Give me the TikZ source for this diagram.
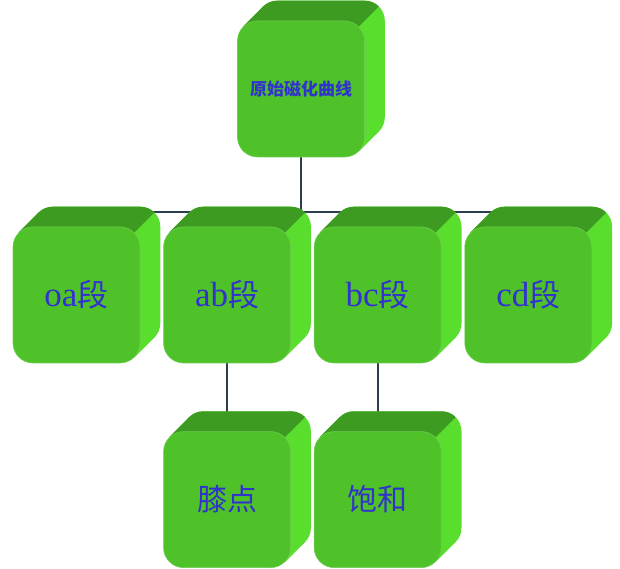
\documentclass[tikz,border=0pt]{standalone}
\usepackage{fontspec}
\setmainfont{Liberation Serif}
\newfontfamily\cjk{Noto Sans CJK SC}
\usetikzlibrary{positioning,calc}

\definecolor{facegreen}{RGB}{78,194,40}
\definecolor{topgreen}{RGB}{62,155,34}
\definecolor{sidegreen}{RGB}{90,222,46}
\definecolor{rimgreen}{RGB}{108,204,80}
\definecolor{textblue}{RGB}{50,50,205}
\definecolor{linkgray}{RGB}{44,62,80}

\pgfdeclarelayer{links}
\pgfdeclarelayer{depth}
\pgfsetlayers{links,depth,main}

% top and right faces behind a box
\newcommand{\boxdepth}[1]{%
  \begin{pgfonlayer}{depth}
    \coordinate (tl) at ($(#1.north west)+(5.86pt,-5.86pt)$);
    \coordinate (br) at ($(#1.south east)+(-5.86pt,5.86pt)$);
    \fill[sidegreen, rounded corners=20pt] ($(#1.south west)+(20pt,20pt)$) rectangle ($(#1.north east)+(20pt,20pt)$);
    \fill[sidegreen] (tl) -- ++(20pt,20pt) -- ($(br)+(20pt,20pt)$) -- (br) -- cycle;
    \begin{scope}
      \clip ($(#1.north west)+(-30pt,-20pt)$) -- ($(#1.north east)+(-20pt,-20pt)$) -- ++(80pt,80pt) -- ($(#1.north west)+(-30pt,60pt)$) -- cycle;
      \fill[topgreen, rounded corners=20pt] ($(#1.south west)+(20pt,20pt)$) rectangle ($(#1.north east)+(20pt,20pt)$);
      \fill[topgreen] (tl) -- ++(20pt,20pt) -- ($(br)+(20pt,20pt)$) -- (br) -- cycle;
    \end{scope}
  \end{pgfonlayer}
}
\newcommand{\seg}[1]{{\fontsize{35}{38}\selectfont #1}{\cjk\fontsize{31}{38}\selectfont 段}}

\begin{document}
\begin{tikzpicture}[
  x=1pt, y=1pt,
  cube/.style={draw=rimgreen, line width=0.6pt, fill=facegreen, rounded corners=20pt,
    minimum width=127pt, minimum height=136pt, inner sep=0pt, text=textblue},
  rootcube/.style={cube, font=\cjk\bfseries\fontsize{17}{20}\selectfont},
  leafcube/.style={cube, font=\cjk\fontsize{30}{36}\selectfont},
  link/.style={draw=linkgray, line width=2pt}
]
  \useasboundingbox (0,0) rectangle (620,569);

  \node[rootcube] (root) at (301,480) {原始磁化曲线};
  \node[cube] (oa) at (76.5,274) {\seg{oa}};
  \node[cube, right=23pt of oa] (ab) {\seg{ab}};
  \node[cube, right=23pt of ab] (bc) {\seg{bc}};
  \node[cube, right=23pt of bc] (cd) {\seg{cd}};
  \node[leafcube, below=68pt of ab] (knee) {膝点};
  \node[leafcube, below=68pt of bc] (sat) {饱和};
  \coordinate (bus) at (301,357);

  \foreach \n in {root,oa,ab,bc,cd,knee,sat}
    \boxdepth{\n};

  \begin{pgfonlayer}{links}
    \draw[link] (root) -- (bus);
    \foreach \n in {oa,ab,bc,cd}
      \draw[link] (\n) |- (bus);
    \draw[link] (ab) -- (knee);
    \draw[link] (bc) -- (sat);
  \end{pgfonlayer}
\end{tikzpicture}
\end{document}
